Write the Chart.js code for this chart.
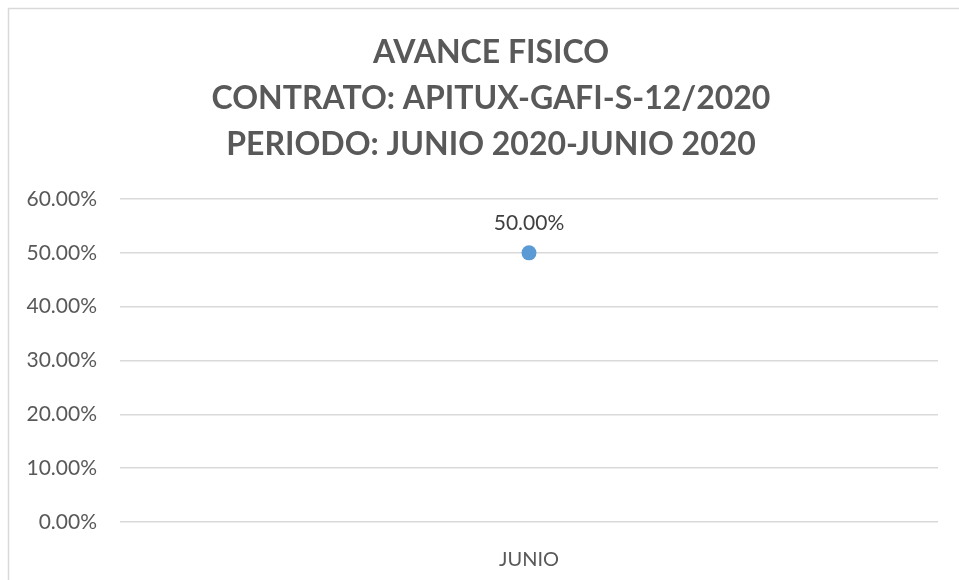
<!DOCTYPE html>
<html>
<head>
<meta charset="utf-8">
<script src="https://cdn.jsdelivr.net/npm/chart.js@4/dist/chart.umd.min.js"></script>
<style>
  html, body { margin: 0; padding: 0; background: #ffffff; }
  #wrap { width: 959px; height: 580px; position: relative; }
</style>
</head>
<body>
<div id="wrap"><canvas id="chart_avanceFisico"></canvas></div>
<script>
// chart data
var categories = ['JUNIO'];
var avanceValues = [0.5];
var titleLines = ['AVANCE FISICO', 'CONTRATO: APITUX-GAFI-S-12/2020', 'PERIODO: JUNIO 2020-JUNIO 2020'];
var yTicks = [0, 0.1, 0.2, 0.3, 0.4, 0.5, 0.6];

var textColor = '#595959';
var gridColor = '#D9D9D9';
var fontFamily = 'Lato, "Open Sans", "Noto Sans", sans-serif';

function pct(v) {
    return (v * 100).toFixed(2) + '%';
}

var chart_avanceFisico = new Chart(document.getElementById('chart_avanceFisico'), {
    type: 'line',
    data: {
        labels: categories,
        datasets: [
            {
                label: 'Avance fisico',
                data: avanceValues,
                borderColor: '#5B9BD5',
                backgroundColor: '#5B9BD5',
                pointRadius: 7.5,
                pointHoverRadius: 7.5,
                pointBorderWidth: 0,
                borderWidth: 2.5
            }
        ]
    },
    options: {
        animation: false,
        responsive: true,
        maintainAspectRatio: false,
        layout: {
            padding: { left: 0, right: 21, top: 0, bottom: 0 }
        },
        plugins: {
            legend: { display: false },
            tooltip: { enabled: false },
            title: {
                display: true,
                text: titleLines,
                color: textColor,
                font: { family: fontFamily, size: 32, weight: 'bold', lineHeight: '46px' },
                padding: { top: 30, bottom: 31 }
            }
        },
        scales: {
            x: {
                type: 'category',
                offset: true,
                grid: { display: false },
                border: { display: false },
                ticks: {
                    color: textColor,
                    padding: 18,
                    font: { family: fontFamily, size: 20 }
                },
                afterFit: function(scale) { scale.height = 58; }
            },
            y: {
                min: 0,
                max: 0.6,
                afterBuildTicks: function(scale) {
                    scale.ticks = yTicks.map(function(v) { return { value: v }; });
                },
                grid: { color: gridColor, lineWidth: 1.5, drawTicks: false },
                border: { display: false },
                ticks: {
                    color: textColor,
                    padding: 23,
                    font: { family: fontFamily, size: 21 },
                    callback: function(value) { return pct(value); }
                },
                afterFit: function(scale) { scale.width = 120; }
            }
        }
    },
    plugins: [{
        id: 'customPlugin',
        afterLayout: (chart) => {
            // title is centred a bit right of the canvas middle
            if (chart.titleBlock) {
                chart.titleBlock.left = 44;
            }
        },
        beforeDraw: (chart, args, options) => {
            const ctx = chart.canvas.getContext('2d');
            ctx.save();
            ctx.globalCompositeOperation = 'destination-over';
            ctx.fillStyle = 'white';
            ctx.fillRect(0, 0, chart.canvas.width, chart.canvas.height);
            ctx.restore();
            ctx.save();
            ctx.strokeStyle = gridColor;
            ctx.lineWidth = 1.5;
            ctx.strokeRect(8.5, 8.5, chart.width + 50, chart.height + 50);
            ctx.restore();
        },
        afterDatasetsDraw: (chart) => {
            const ctx = chart.ctx;
            const meta = chart.getDatasetMeta(0);
            ctx.save();
            ctx.fillStyle = '#404040';
            ctx.font = '21px ' + fontFamily;
            ctx.textAlign = 'center';
            ctx.textBaseline = 'middle';
            meta.data.forEach(function(pt, i) {
                ctx.fillText(pct(avanceValues[i]), pt.x, pt.y - 30);
            });
            ctx.restore();
        }
    }]
});
</script>
</body>
</html>
